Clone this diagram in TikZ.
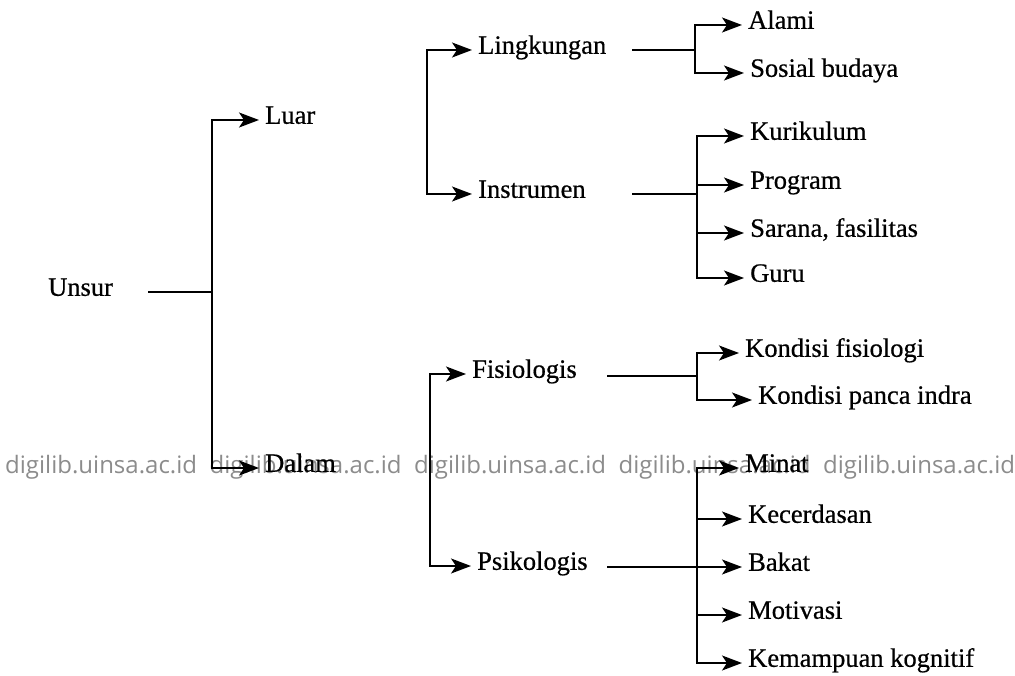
\documentclass[tikz,border=0pt]{standalone}
\usepackage{fontspec}
\setmainfont{Liberation Serif}[FakeBold=0.6]
\newfontfamily\lblfont{Liberation Serif}[FakeBold=0.6]
\newfontfamily\wmfont{Open Sans}
\usetikzlibrary{arrows.meta}
\begin{document}
\begin{tikzpicture}[x=1pt,y=-1pt,
  lbl/.style={anchor=west,inner sep=0pt,font=\lblfont\fontsize{26.5}{30}\selectfont,text height=0.76em,text depth=0pt},
  conn/.style={line width=1.8pt},
  arr/.style={line width=1.8pt,-{Stealth[length=20pt,width=15pt,inset=5pt]},shorten >=6pt},
  wm/.style={anchor=west,inner sep=0pt,font=\wmfont\fontsize{24}{28}\selectfont,text=black!45}]
\useasboundingbox[fill=white] (0,0) rectangle (1015,676);
% watermark
\node[wm] (w1) at (5,467) {digilib.uinsa.ac.id};
\node[wm] (w2) at (209.5,467) {digilib.uinsa.ac.id};
\node[wm] (w3) at (414,467) {digilib.uinsa.ac.id};
\node[wm] (w4) at (618.5,467) {digilib.uinsa.ac.id};
\node[wm] (w5) at (823,467) {digilib.uinsa.ac.id};
% labels
\node[lbl] (unsur) at (48,292) {Unsur};
\node[lbl] (luar) at (265,120) {Luar};
\node[lbl] (dalam) at (265,468) {Dalam};
\node[lbl] (ling) at (478,50) {Lingkungan};
\node[lbl] (instr) at (478,194) {Instrumen};
\node[lbl] (alami) at (748,25) {Alami};
\node[lbl] (sosial) at (750,73) {Sosial budaya};
\node[lbl] (kuri) at (750,136) {Kurikulum};
\node[lbl] (prog) at (750,185) {Program};
\node[lbl] (sarana) at (750,233) {Sarana, fasilitas};
\node[lbl] (guru) at (750,278) {Guru};
\node[lbl] (fisio) at (472,374) {Fisiologis};
\node[lbl] (psiko) at (477,566) {Psikologis};
\node[lbl] (kfis) at (745,353) {Kondisi fisiologi};
\node[lbl] (kpanca) at (758,400) {Kondisi panca indra};
\node[lbl] (minat) at (745,468) {Minat};
\node[lbl] (kecer) at (748,519) {Kecerdasan};
\node[lbl] (bakat) at (748,567) {Bakat};
\node[lbl] (motiv) at (748,615) {Motivasi};
\node[lbl] (kemamp) at (748,663) {Kemampuan kognitif};
% junction coordinates
\coordinate (s1) at (148,292);
\coordinate (b1) at (212,292);
\coordinate (b2) at (427,122);
\coordinate (s3) at (632,50);
\coordinate (b3) at (695,50);
\coordinate (s4) at (632,194);
\coordinate (b4) at (697,194);
\coordinate (b5) at (430,470);
\coordinate (s6) at (607,376);
\coordinate (b6) at (697,376);
\coordinate (s7) at (607,567);
\coordinate (b7) at (697,567);
% connectors
\draw[conn] (s1) -- (b1);
\draw[arr] (b1) |- (luar.west);
\draw[arr] (b1) |- (dalam.west);
\draw[arr] (b2) |- (ling.west);
\draw[arr] (b2) |- (instr.west);
\draw[conn] (s3) -- (b3);
\draw[arr] (b3) |- (alami.west);
\draw[arr] (b3) |- (sosial.west);
\draw[conn] (s4) -- (b4);
\draw[arr] (b4) |- (kuri.west);
\draw[arr] (b4) |- (prog.west);
\draw[arr] (b4) |- (sarana.west);
\draw[arr] (b4) |- (guru.west);
\draw[arr] (b5) |- (fisio.west);
\draw[arr] (b5) |- (psiko.west);
\draw[conn] (s6) -- (b6);
\draw[arr] (b6) |- (kfis.west);
\draw[arr] (b6) |- (kpanca.west);
\draw[conn] (s7) -- (b7);
\draw[arr] (b7) |- (minat.west);
\draw[arr] (b7) |- (kecer.west);
\draw[arr] (b7) |- (bakat.west);
\draw[arr] (b7) |- (motiv.west);
\draw[arr] (b7) |- (kemamp.west);
\end{tikzpicture}
\end{document}
